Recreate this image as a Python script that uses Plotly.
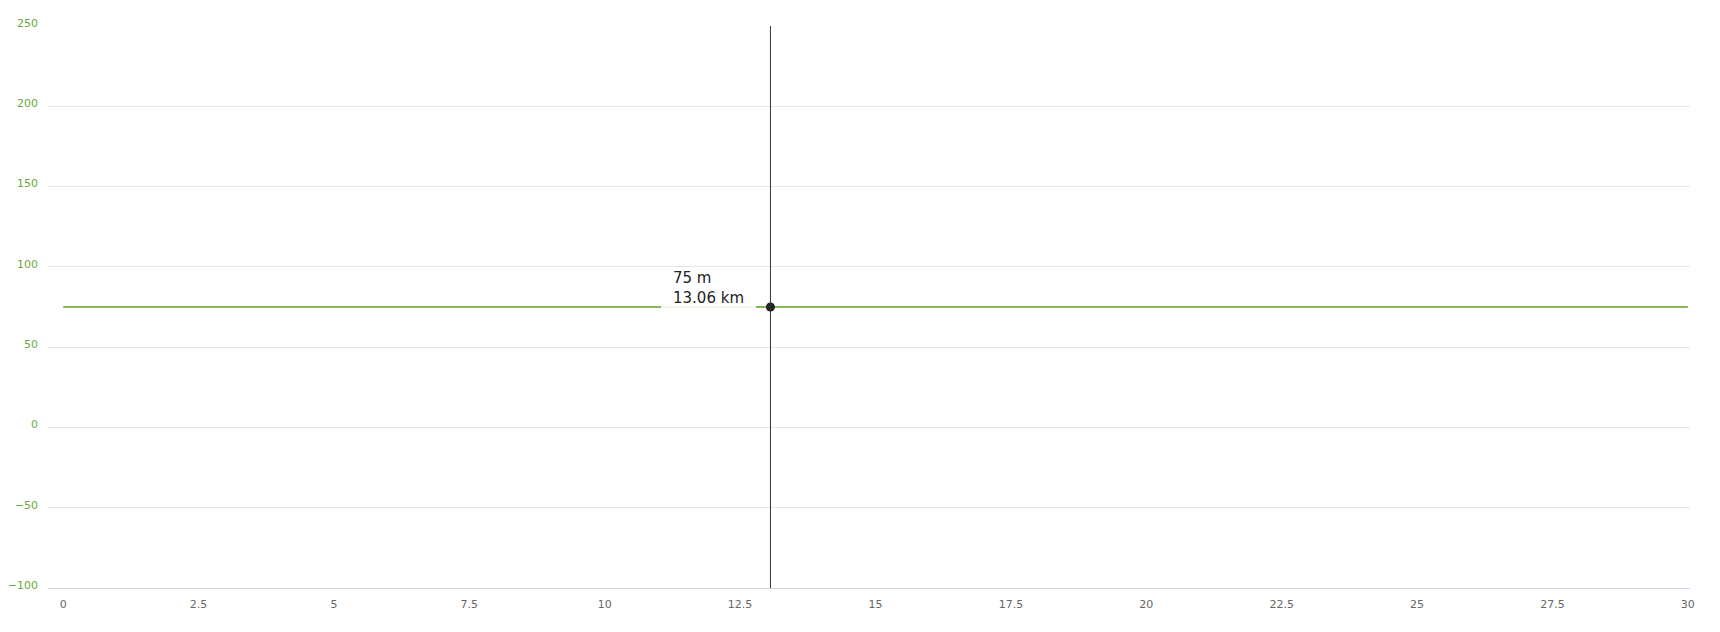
import plotly.graph_objects as go

# Data
distance_km = [0, 30]
elevation_m = [75, 75]
hover_km = 13.06
hover_elev = 75
x_tick_vals = [0, 2.5, 5, 7.5, 10, 12.5, 15, 17.5, 20, 22.5, 25, 27.5, 30]
x_tick_text = ["0", "2.5", "5", "7.5", "10", "12.5", "15", "17.5", "20", "22.5", "25", "27.5", "30"]
y_tick_vals = [-100, -50, 0, 50, 100, 150, 200, 250]

GREEN = "#5c9e22"
FONT = "DejaVu Sans"

fig = go.Figure()
fig.add_trace(go.Scatter(
    x=distance_km, y=elevation_m, mode="lines",
    line=dict(color=GREEN, width=1.5), hoverinfo="skip", showlegend=False,
))
fig.add_trace(go.Scatter(
    x=[hover_km], y=[hover_elev], mode="markers",
    marker=dict(color="#222222", size=9), hoverinfo="skip", showlegend=False,
))

fig.add_shape(type="line", xref="x", yref="paper", x0=hover_km, x1=hover_km, y0=0, y1=1,
              line=dict(color="#333333", width=1), layer="above")

# tooltip box
fig.add_annotation(
    x=hover_km, y=hover_elev, xref="x", yref="y",
    text=" ", showarrow=False, xanchor="right", yanchor="bottom",
    xshift=-14, yshift=-2, width=95, height=41, borderpad=0,
    bgcolor="rgba(255,255,255,0.88)", borderwidth=0,
)
# tooltip text
fig.add_annotation(
    x=hover_km, y=hover_elev, xref="x", yref="y",
    text=f"{hover_elev} m<br>{hover_km:.2f} km",
    showarrow=False, xanchor="left", yanchor="bottom", align="left",
    xshift=-98, yshift=-1, borderpad=0,
    font=dict(family=FONT, size=15, color="#222222"),
)

fig.update_layout(
    width=1720, height=632,
    margin=dict(l=40, r=38, t=18, b=52, autoexpand=False),
    paper_bgcolor="white", plot_bgcolor="white",
    font=dict(family=FONT),
    xaxis=dict(
        range=[-0.28, 30.04], tickvals=x_tick_vals, ticktext=x_tick_text,
        showgrid=False, zeroline=False, showline=True, linecolor="#ccd6eb", linewidth=1,
        ticks="", ticklabelstandoff=6, automargin=False,
        tickfont=dict(family=FONT, size=11, color="#666666"),
    ),
    yaxis=dict(
        range=[-100, 250], tickvals=y_tick_vals,
        showgrid=True, gridcolor="#e6e6e6", gridwidth=1, zeroline=False, showline=False,
        ticks="", ticklabelstandoff=9, ticklabelshift=-3, automargin=False,
        tickfont=dict(family=FONT, size=11, color="#6aa83a"),
    ),
)

fig.write_html("out.html")
